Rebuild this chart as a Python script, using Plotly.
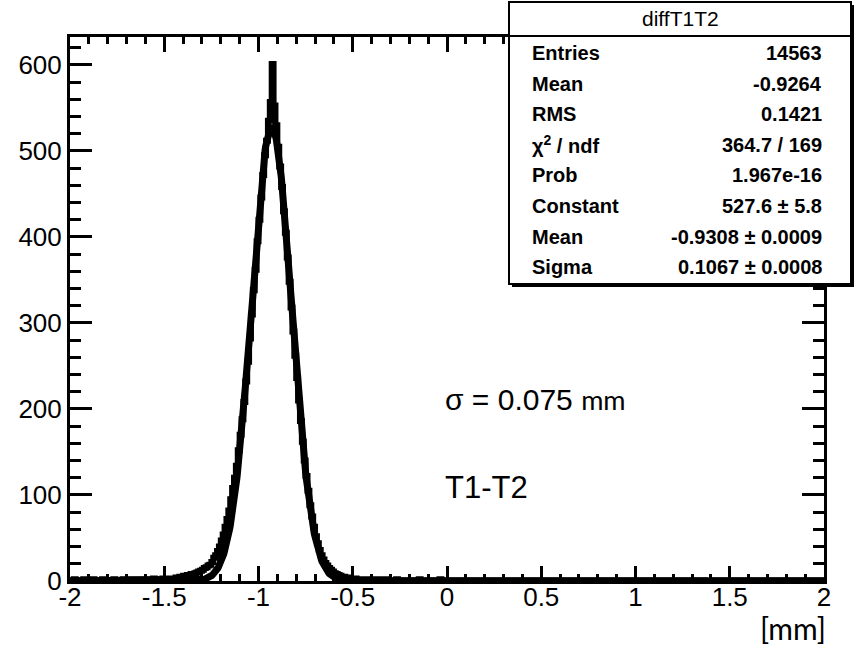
import numpy as np
import plotly.graph_objects as go

# Histogram diffT1T2: 400 bins of 0.01 mm from -2 to 2
bin_start = -2.0
bin_width = 0.01

# bins -2.00 .. -1.50
left_tail = [1, 0, 2, 1, 1, 0, 1, 2, 1, 0,
             1, 1, 2, 0, 1, 1, 0, 2, 1, 1,
             0, 1, 1, 2, 1, 0, 1, 1, 2, 1,
             1, 2, 1, 0, 1, 2, 1, 1, 2, 1,
             2, 1, 1, 2, 3, 1, 2, 2, 1, 3]

# bins -1.50 .. -0.40
core = [2, 1, 3, 2, 3, 2, 4, 3, 5, 4,
        6, 5, 7, 6, 8, 7, 9, 10, 11, 12,
        13, 15, 16, 18, 19, 22, 27, 30, 35, 40,
        47, 54, 63, 72, 82, 95, 108, 120, 134, 152,
        170, 188, 208, 232, 255, 282, 310, 338, 362, 395,
        420, 446, 472, 495, 512, 535, 557, 601, 553, 530,
        505, 482, 458, 430, 405, 376, 348, 318, 290, 262,
        236, 210, 186, 162, 140, 122, 105, 88, 75, 63,
        52, 44, 36, 30, 25, 21, 18, 15, 13, 11,
        9, 8, 7, 6, 5, 5, 4, 3, 4, 3,
        2, 3, 2, 2, 1, 2, 1, 1, 2, 1]

# bins -0.40 .. 2.00
right_tail = [2, 1, 1, 2, 1, 0, 1, 2, 1, 1, 0, 1, 1, 2, 0, 1, 1, 0, 1, 1,
              1, 0, 1, 1, 0, 2, 1, 0, 1, 1, 0, 1, 0, 1, 1, 0, 2, 0, 1, 0,
              1, 0, 1, 1, 0, 0, 1, 0, 1, 1, 0, 1, 0, 0, 1, 1, 0, 1, 0, 1,
              0, 1, 1, 0, 1, 0, 0, 1, 0, 1, 1, 0, 1, 0, 0, 1, 0, 1, 1, 0,
              1, 0, 0, 1, 0, 1, 1, 0, 0, 1, 0, 1, 0, 1, 0, 0, 1, 0, 1, 0,
              0, 1, 0, 0, 1, 0, 1, 0, 0, 1, 0, 0, 1, 0, 1, 0, 0, 1, 0, 0,
              1, 0, 0, 1, 0, 0, 1, 0, 1, 0, 0, 1, 0, 0, 1, 0, 0, 0, 1, 0,
              0, 1, 0, 0, 1, 0, 0, 1, 0, 0, 1, 0, 0, 1, 0, 0, 0, 1, 0, 0,
              1, 0, 0, 0, 1, 0, 1, 0, 0, 0, 1, 0, 0, 1, 0, 0, 1, 0, 0, 0,
              0, 1, 0, 0, 0, 1, 0, 0, 1, 0, 0, 0, 1, 0, 0, 1, 0, 0, 0, 1,
              0, 0, 1, 0, 0, 0, 1, 0, 0, 1, 0, 0, 0, 1, 0, 0, 0, 1, 0, 0,
              1, 0, 0, 0, 1, 0, 0, 0, 1, 0, 0, 1, 0, 0, 0, 1, 0, 0, 0, 1]

counts = left_tail + core + right_tail

# Gaussian fit parameters
fit_constant = 527.6
fit_mean = -0.9308
fit_sigma = 0.1067

stat_title = "diffT1T2"
stat_labels = ["Entries", "Mean", "RMS", "χ<sup>2</sup> / ndf", "Prob",
               "Constant", "Mean", "Sigma"]
stat_values = ["14563", "-0.9264", "0.1421", "364.7 / 169", "1.967e-16",
               "527.6 ± 5.8", "-0.9308 ± 0.0009", "0.1067 ± 0.0008"]

x_range = [-2, 2]
y_range = [0, 632.5]
x_ticks = [-2, -1.5, -1, -0.5, 0, 0.5, 1, 1.5, 2]
x_ticktext = ["-2", "-1.5", "-1", "-0.5", "0", "0.5", "1", "1.5", "2"]
y_ticks = [0, 100, 200, 300, 400, 500, 600]

edges = bin_start + bin_width * np.arange(len(counts) + 1)
y_step = counts + [counts[-1]]

xf = np.linspace(x_range[0], x_range[1], 1601)
yf = fit_constant * np.exp(-0.5 * ((xf - fit_mean) / fit_sigma) ** 2)

W, H = 855, 646
ML, MR, MT, MB = 70, 31, 37, 65
PW, PH = W - ML - MR, H - MT - MB


def px(x):
    return (x - ML) / PW


def py(y):
    return (H - MB - y) / PH


fig = go.Figure()
fig.add_trace(go.Scatter(x=edges, y=y_step, mode="lines", line_shape="hv",
                         line=dict(color="black", width=6),
                         hoverinfo="skip", showlegend=False))
fig.add_trace(go.Scatter(x=xf, y=yf, mode="lines",
                         line=dict(color="black", width=7),
                         hoverinfo="skip", showlegend=False))

tickfont = dict(family="Liberation Sans", size=26, color="black")
axis_common = dict(showline=True, linecolor="black", linewidth=3,
                   mirror="allticks", ticks="inside", tickcolor="black",
                   tickwidth=2.5, showgrid=False, zeroline=False,
                   tickfont=tickfont)

fig.update_xaxes(range=x_range, tickvals=x_ticks, ticktext=x_ticktext,
                 ticklen=15, ticklabelstandoff=-9,
                 minor=dict(dtick=0.1, ticklen=7, tickwidth=2.5,
                            tickcolor="black", ticks="inside", showgrid=False),
                 **axis_common)
fig.update_yaxes(range=y_range, tickvals=y_ticks, ticklen=22,
                 ticklabelstandoff=0,
                 minor=dict(dtick=20, ticklen=11, tickwidth=2.5,
                            tickcolor="black", ticks="inside", showgrid=False),
                 **axis_common)

shapes = []
# statistics box with shadow
bx0, bx1, by0, by1 = 509, 851, 2, 284
shapes.append(dict(type="rect", xref="paper", yref="paper", layer="above",
                   x0=px(bx0 + 3), x1=px(bx1 + 3), y0=py(by1 + 3), y1=py(by0 + 3),
                   fillcolor="black", line=dict(width=0)))
shapes.append(dict(type="rect", xref="paper", yref="paper", layer="above",
                   x0=px(bx0), x1=px(bx1), y0=py(by1), y1=py(by0),
                   fillcolor="white", line=dict(color="black", width=2)))
shapes.append(dict(type="line", xref="paper", yref="paper", layer="above",
                   x0=px(bx0), x1=px(bx1), y0=py(36), y1=py(36),
                   line=dict(color="black", width=2)))

annotations = []
statfont = dict(family="Liberation Sans", size=20, color="black")
annotations.append(dict(text=stat_title, xref="paper", yref="paper",
                        x=px((bx0 + bx1) / 2), y=py(19), showarrow=False,
                        xanchor="center", yanchor="middle",
                        font=dict(family="Liberation Sans", size=21,
                                  color="black")))
row0, row_step = 53, 30.6
for i, (lab, val) in enumerate(zip(stat_labels, stat_values)):
    yy = py(row0 + i * row_step)
    annotations.append(dict(text="<b>%s</b>" % lab, xref="paper", yref="paper",
                            x=px(530), y=yy, showarrow=False,
                            xanchor="left", yanchor="middle", font=statfont))
    annotations.append(dict(text="<b>%s</b>" % val, xref="paper", yref="paper",
                            x=px(824), y=yy, showarrow=False,
                            xanchor="right", yanchor="middle", font=statfont))

annotations.append(dict(
    text="σ = 0.075 <span style='font-family:Lato; font-size:27px'>mm</span>",
    xref="paper", yref="paper", x=px(443), y=py(399), showarrow=False,
    xanchor="left", yanchor="middle",
    font=dict(family="Liberation Sans", size=30, color="black")))
annotations.append(dict(
    text="T1-T2", xref="paper", yref="paper", x=px(443), y=py(487),
    showarrow=False, xanchor="left", yanchor="middle",
    font=dict(family="Liberation Sans", size=31, color="black")))
annotations.append(dict(
    text="[mm]", xref="paper", yref="paper", x=px(828), y=py(628),
    showarrow=False, xanchor="right", yanchor="middle",
    font=dict(family="Lato", size=30, color="black")))

fig.update_layout(width=W, height=H,
                  margin=dict(l=ML, r=MR, t=MT, b=MB, pad=0),
                  paper_bgcolor="white", plot_bgcolor="white",
                  shapes=shapes, annotations=annotations, showlegend=False)

fig.write_html("out.html")
